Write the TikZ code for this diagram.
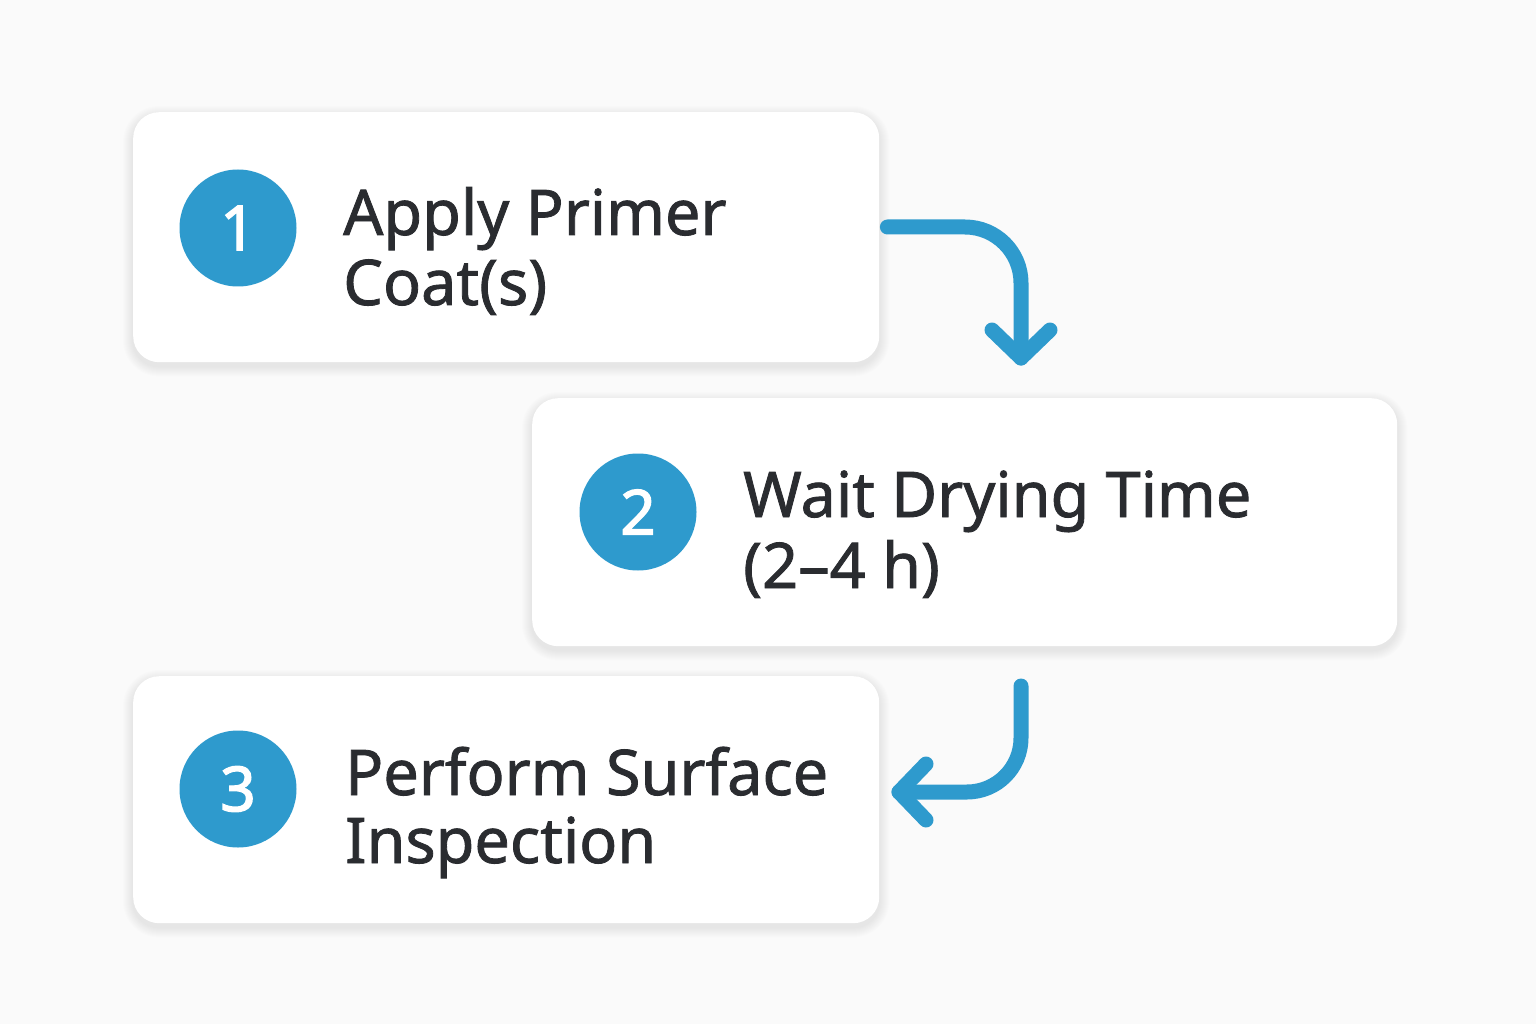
\documentclass[tikz,border=0pt]{standalone}
\usepackage{fontspec}
\setmainfont{Noto Sans}
\newfontfamily\medfont[FakeBold=1.3]{Noto Sans}
\newfontfamily\numfont[FakeBold=2.2]{Noto Sans}
\usetikzlibrary{arrows.meta,calc}
\definecolor{bg}{HTML}{FAFAFA}
\definecolor{accent}{HTML}{2E9ACD}
\definecolor{txt}{HTML}{2A2C30}
\tikzset{
  card/.style={draw=none,fill=white,rounded corners=26pt,anchor=north west,inner sep=0pt},
  ghost/.style={inner sep=0pt,anchor=north west},
  num/.style={circle,fill=accent,minimum size=117pt,inner sep=0pt,text=white,
    font=\numfont\fontsize{62}{62}\selectfont},
  lbl/.style={anchor=base west,text=txt,font=\medfont\fontsize{63}{70}\selectfont,inner sep=0pt},
  flow/.style={draw=accent,line width=15pt,line cap=round,line join=round},
  shade/.style={fill=black,fill opacity=0.009,draw=none}
}
\newcommand{\cardshadow}[1]{%
  \foreach \k in {1,...,10}{
    \fill[shade,rounded corners=26pt+\k pt]
      ($(#1.north west)+(-\k,-\k+4)$) rectangle ($(#1.south east)+(\k,\k+4)$);
  }}
\begin{document}
\begin{tikzpicture}[x=1pt,y=-1pt]
\useasboundingbox[fill=bg] (0,0) rectangle (1536,1024);
% shadows
\node[ghost,minimum width=746pt,minimum height=250pt] (s1) at (133,112) {};
\node[ghost,minimum width=865pt,minimum height=248pt] (s2) at (532,398) {};
\node[ghost,minimum width=746pt,minimum height=247pt] (s3) at (133,676) {};
\cardshadow{s1}\cardshadow{s2}\cardshadow{s3}
% cards
\node[card,minimum width=746pt,minimum height=250pt] (b1) at (133,112) {};
\node[card,minimum width=865pt,minimum height=248pt] (b2) at (532,398) {};
\node[card,minimum width=746pt,minimum height=247pt] (b3) at (133,676) {};
% numbers
\node[num] (n1) at (238,228) {1};
\node[num] (n2) at (638,512) {2};
\node[num] (n3) at (238,789) {3};
% labels
\node[lbl] (t1a) at (343,235) {Apply Primer};
\node[lbl] (t1b) at (343,305) {Coat(s)};
\node[lbl] (t2a) at (743,517) {Wait Drying Time};
\node[lbl] (t2b) at (743,588) {(2–4 h)};
\node[lbl] (t3a) at (345,795) {Perform Surface};
\node[lbl] (t3b) at (345,863) {Inspection};
% arrow 1
\coordinate (a1s) at ($(b1.east |- 0,227)+(8,0)$);
\coordinate (a1e) at (1021,358);
\draw[flow] (a1s) -- (965,227) arc[start angle=270,end angle=360,radius=56] -- (a1e);
\draw[flow] (992,330) -- (a1e) -- (1050,330);
% arrow 2
\coordinate (a2s) at (1021,686);
\coordinate (a2t) at (899,792);
\draw[flow] (a2s) -- (1021,738) arc[start angle=0,end angle=90,radius=54] -- (a2t);
\draw[flow] (926,764) -- (a2t) -- (926,820);
\end{tikzpicture}
\end{document}
